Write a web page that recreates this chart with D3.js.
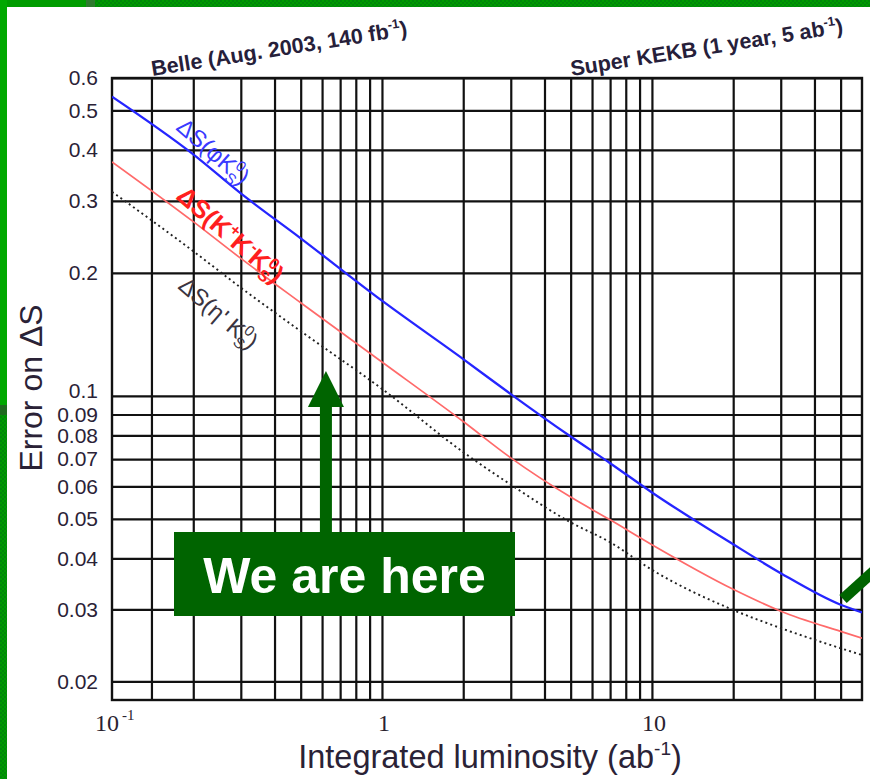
<!DOCTYPE html>
<html>
<head>
<meta charset="utf-8">
<script src="https://cdn.jsdelivr.net/npm/d3@7"></script>
<style>
  html, body { margin: 0; padding: 0; background: #fff; }
  svg { display: block; }
</style>
</head>
<body>
<svg id="chart" width="870" height="779"></svg>
<script>
// Integrated luminosity samples (ab^-1)
const lumi = [0.1, 0.2, 0.3, 0.5, 1, 2, 3, 5, 7, 10, 20, 30, 50, 60];
// Expected error on ΔS for each mode
const errPhiKs  = [0.54, 0.39, 0.313, 0.243, 0.171, 0.123, 0.101, 0.0795, 0.0684, 0.058, 0.0433, 0.0368, 0.0308, 0.0295];
const errKKKs   = [0.374, 0.267, 0.217, 0.169, 0.121, 0.0865, 0.0705, 0.0565, 0.0497, 0.0432, 0.0336, 0.0297, 0.0265, 0.0255];
const errEtapKs = [0.316, 0.226, 0.184, 0.144, 0.104, 0.0728, 0.0606, 0.049, 0.0438, 0.0375, 0.0299, 0.0270, 0.0241, 0.0232];

// Axis ticks
const yTickValues = [0.02, 0.03, 0.04, 0.05, 0.06, 0.07, 0.08, 0.09, 0.1, 0.2, 0.3, 0.4, 0.5, 0.6];
const xGridValues = [0.14, 0.2, 0.3, 0.4, 0.5, 0.6, 0.7, 0.8, 0.9, 1, 2, 3, 4, 5, 6, 7, 8, 9, 10, 20, 30, 40, 50];
const xTickLabels = [
  { value: 0.1, base: "10", exp: "-1" },
  { value: 1,   base: "1" },
  { value: 10,  base: "10" }
];

// Milestones marked along the top
const milestones = [
  { value: 0.14, text: "Belle (Aug. 2003, 140 fb", exp: "-1" },
  { value: 5,    text: "Super KEKB (1 year, 5 ab", exp: "-1" }
];

const svg = d3.select("#chart");
const L = 112, R = 862, T = 78, B = 700;

const x = d3.scaleLog().domain([0.1, 60]).range([L, R]);
const y = d3.scaleLog().domain([0.018, 0.6]).range([B, T]);

const SANS = "'Liberation Sans', Arial, Helvetica, sans-serif";
const SERIF = "'Liberation Serif', 'Times New Roman', serif";

// ---- green slide border ----
const defs = svg.append("defs");
const pat = defs.append("pattern").attr("id", "dither")
  .attr("width", 4).attr("height", 4).attr("patternUnits", "userSpaceOnUse");
pat.append("rect").attr("width", 4).attr("height", 4).attr("fill", "#009a00");
pat.append("rect").attr("width", 2).attr("height", 2).attr("fill", "#00870a");
pat.append("rect").attr("x", 2).attr("y", 2).attr("width", 2).attr("height", 2).attr("fill", "#00870a");

svg.append("rect").attr("x", 0).attr("y", 0).attr("width", 870).attr("height", 7).attr("fill", "url(#dither)");
svg.append("rect").attr("x", 0).attr("y", 0).attr("width", 86).attr("height", 7).attr("fill", "#009c00");
svg.append("rect").attr("x", 86).attr("y", 0).attr("width", 9).attr("height", 7).attr("fill", "#2d7a2d");
svg.append("rect").attr("x", 0).attr("y", 0).attr("width", 7).attr("height", 405).attr("fill", "#00a800");
svg.append("rect").attr("x", 0).attr("y", 405).attr("width", 7).attr("height", 10).attr("fill", "#1f6a1f");
svg.append("rect").attr("x", 0).attr("y", 415).attr("width", 7).attr("height", 364).attr("fill", "url(#dither)");

// ---- grid via axes ----
const yAxis = d3.axisLeft(y)
  .tickValues(yTickValues)
  .tickSize(-(R - L))
  .tickPadding(14)
  .tickFormat(d => String(d));

const gy = svg.append("g").attr("transform", `translate(${L},0)`).call(yAxis);
gy.select(".domain").remove();
gy.selectAll(".tick line").attr("stroke", "#111").attr("stroke-width", 2.2);
gy.selectAll(".tick text")
  .attr("fill", "#2a2236")
  .attr("dy", d => d === 0.1 ? "0.1em" : "0.32em")
  .style("font-family", SANS)
  .style("font-size", "21px");

const xAxis = d3.axisBottom(x)
  .tickValues(xGridValues)
  .tickSize(-(B - T))
  .tickFormat(() => "");

const gx = svg.append("g").attr("transform", `translate(0,${B})`).call(xAxis);
gx.select(".domain").remove();
gx.selectAll(".tick line").attr("stroke", "#111").attr("stroke-width", 2.2);

// frame
svg.append("rect")
  .attr("x", L).attr("y", T).attr("width", R - L).attr("height", B - T)
  .attr("fill", "none").attr("stroke", "#111").attr("stroke-width", 2.4);

// x tick labels (serif, as in the original plot)
xTickLabels.forEach(t => {
  const txt = svg.append("text")
    .attr("y", 731)
    .attr("fill", "#2a2230")
    .style("font-family", SERIF)
    .style("font-size", "24px");
  if (t.exp) {
    txt.attr("x", x(t.value) - 17).attr("text-anchor", "start");
    txt.append("tspan").text(t.base);
    txt.append("tspan").attr("dx", 3).attr("dy", -11).style("font-size", "15px").text(t.exp);
  } else {
    txt.attr("x", x(t.value) + 2).attr("text-anchor", "middle").text(t.base);
  }
});

// axis titles
const xt = svg.append("text")
  .attr("x", 490).attr("y", 768)
  .attr("text-anchor", "middle")
  .attr("fill", "#2a2236")
  .style("font-family", SANS)
  .style("font-size", "32.5px");
xt.append("tspan").text("Integrated luminosity (ab");
xt.append("tspan").attr("dy", -13).style("font-size", "19px").text("-1");
xt.append("tspan").attr("dy", 13).text(")");

svg.append("text")
  .attr("transform", "translate(42,388) rotate(-90)")
  .attr("text-anchor", "middle")
  .attr("fill", "#2a2236")
  .style("font-family", SANS)
  .style("font-size", "32px")
  .text("Error on ΔS");

// ---- curves ----
defs.append("clipPath").attr("id", "plotClip")
  .append("rect").attr("x", L).attr("y", T).attr("width", R - L).attr("height", B - T);

const line = d3.line()
  .x(d => x(d[0]))
  .y(d => y(d[1]))
  .curve(d3.curveMonotoneX);

const curves = svg.append("g").attr("clip-path", "url(#plotClip)");

curves.append("path")
  .datum(lumi.map((l, i) => [l, errEtapKs[i]]))
  .attr("d", line)
  .attr("fill", "none")
  .attr("stroke", "#222")
  .attr("stroke-width", 1.9)
  .attr("stroke-dasharray", "2,3.2");

curves.append("path")
  .datum(lumi.map((l, i) => [l, errKKKs[i]]))
  .attr("d", line)
  .attr("fill", "none")
  .attr("stroke", "#ff6a6a")
  .attr("stroke-width", 1.7);

curves.append("path")
  .datum(lumi.map((l, i) => [l, errPhiKs[i]]))
  .attr("d", line)
  .attr("fill", "none")
  .attr("stroke", "#2525ff")
  .attr("stroke-width", 2.3);

// ---- curve labels (rotated along the curves) ----
function modeLabel(lx, ly, color, size, weight, parts) {
  const t = svg.append("text")
    .attr("transform", `translate(${x(lx)},${y(ly)}) rotate(41)`)
    .attr("fill", color)
    .style("font-family", SANS)
    .style("font-weight", weight)
    .style("font-size", size + "px");
  parts.forEach(p => {
    const s = t.append("tspan").text(p.s);
    if (p.dx !== undefined) s.attr("dx", p.dx);
    if (p.dy !== undefined) s.attr("dy", p.dy);
    if (p.small) s.style("font-size", Math.round(size * 0.62) + "px");
  });
}

modeLabel(0.171, 0.45, "#3a3aff", 23.5, "normal", [
  { s: "ΔS(φK" },
  { s: "0", dy: -10, small: true },
  { s: "S", dx: -9, dy: 16, small: true },
  { s: ")", dy: -6 }
]);

modeLabel(0.171, 0.305, "#ff1f1f", 25.5, "bold", [
  { s: "ΔS(K" },
  { s: "+", dy: -10, small: true },
  { s: "K", dy: 10 },
  { s: "-", dy: -10, small: true },
  { s: "K", dy: 10 },
  { s: "0", dy: -10, small: true },
  { s: "S", dx: -10, dy: 16, small: true },
  { s: ")", dy: -6 }
]);

modeLabel(0.174, 0.184, "#3a3440", 23.5, "normal", [
  { s: "ΔS(η' K" },
  { s: "0", dy: -10, small: true },
  { s: "S", dx: -9, dy: 16, small: true },
  { s: ")", dy: -6 }
]);

// ---- milestone annotations along the top ----
milestones.forEach(m => {
  const t = svg.append("text")
    .attr("transform", `translate(${x(m.value) + 1},${T - 2}) rotate(-9)`)
    .attr("fill", "#26203a")
    .style("font-family", SANS)
    .style("font-weight", "bold")
    .style("font-size", "21.5px");
  t.append("tspan").text(m.text);
  t.append("tspan").attr("dy", -9).style("font-size", "13px").text(m.exp);
  t.append("tspan").attr("dy", 9).text(")");
});

// ---- "We are here" callout ----
const GREEN = "#006400";
const hereL = 0.62;
const ax = x(hereL);
const boxTop = 532, boxBottom = 616, boxLeft = 174, boxRight = 515;

svg.append("rect")
  .attr("x", ax - 6).attr("y", 405).attr("width", 12).attr("height", boxTop - 405)
  .attr("fill", GREEN);
svg.append("path")
  .attr("d", `M${ax - 18},407 L${ax},371 L${ax + 18},407 Z`)
  .attr("fill", GREEN);
svg.append("rect")
  .attr("x", boxLeft).attr("y", boxTop)
  .attr("width", boxRight - boxLeft).attr("height", boxBottom - boxTop)
  .attr("fill", GREEN);
svg.append("text")
  .attr("x", (boxLeft + boxRight) / 2).attr("y", 593)
  .attr("text-anchor", "middle")
  .attr("fill", "#fff")
  .style("font-family", SANS)
  .style("font-weight", "bold")
  .style("font-size", "50px")
  .text("We are here");

// second pointer toward the end of the φK_S curve
svg.append("line")
  .attr("x1", 843).attr("y1", 599)
  .attr("x2", 895).attr("y2", 552)
  .attr("stroke", GREEN)
  .attr("stroke-width", 11);
</script>
</body>
</html>
